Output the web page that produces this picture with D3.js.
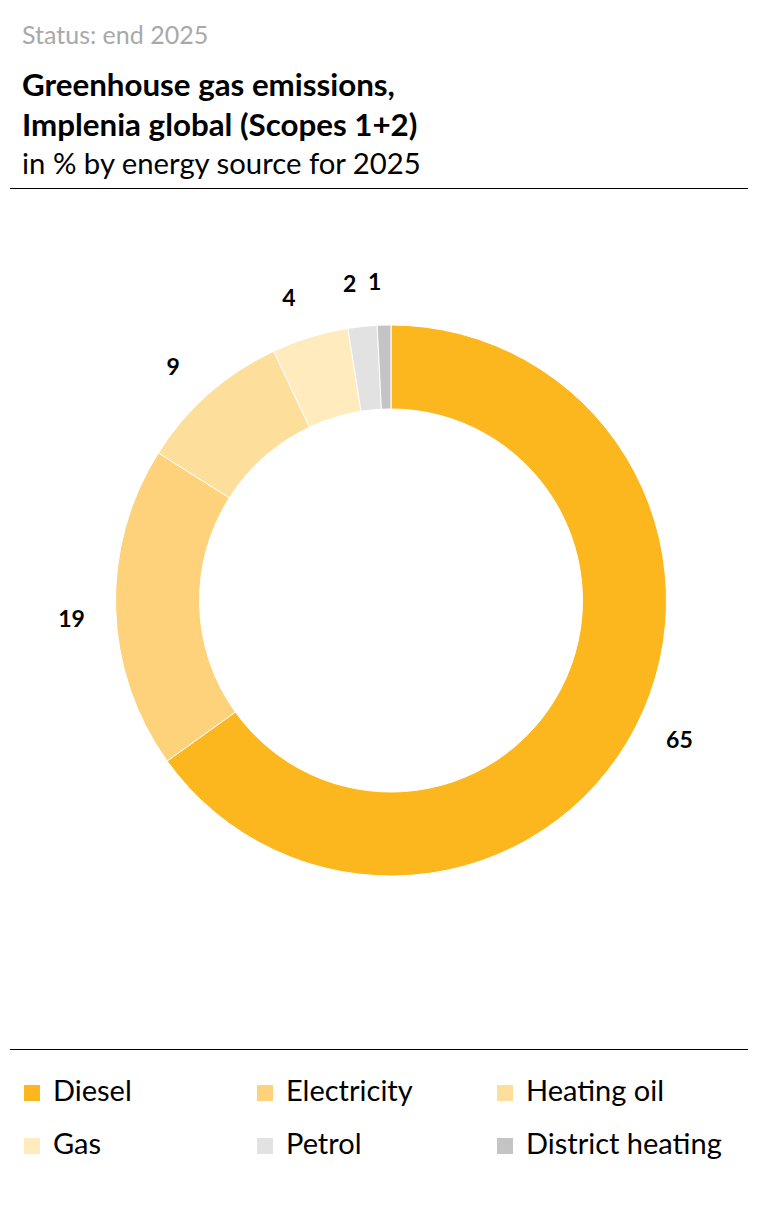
<!DOCTYPE html>
<html><head><meta charset="utf-8">
<script src="https://cdn.jsdelivr.net/npm/d3@7"></script>
<style>
html,body{margin:0;padding:0;background:#fff;}
svg{display:block;font-family:Lato,"Noto Sans",sans-serif;}
</style></head>
<body>
<svg id="chart" width="762" height="1232"></svg>
<script>
const categories = ["Diesel","Electricity","Heating oil","Gas","Petrol","District heating"];
const values = [65.1, 18.9, 9.0, 4.5, 1.7, 0.8];
const labels = ["65","19","9","4","2","1"];
const colors = ["#FDB71E","#FED27A","#FEDE9B","#FFEBBD","#E2E2E2","#C4C4C4"];

const svg = d3.select("#chart");

svg.append("text").attr("x",22).attr("y",44).attr("fill","#a9a9a9")
  .attr("font-size",25).text("Status: end 2025");
svg.append("text").attr("x",22).attr("y",96).attr("fill","#000")
  .attr("font-size",31.3).attr("font-weight","bold").text("Greenhouse gas emissions,");
svg.append("text").attr("x",22).attr("y",136).attr("fill","#000")
  .attr("font-size",31.3).attr("font-weight","bold").text("Implenia global (Scopes 1+2)");
svg.append("text").attr("x",22).attr("y",174).attr("fill","#000")
  .attr("font-size",29.3).text("in % by energy source for 2025");
svg.append("line").attr("x1",10).attr("x2",748).attr("y1",188.5).attr("y2",188.5)
  .attr("stroke","#000").attr("stroke-width",1);
svg.append("line").attr("x1",10).attr("x2",748).attr("y1",1049.5).attr("y2",1049.5)
  .attr("stroke","#000").attr("stroke-width",1);

const cx = 391, cy = 600.5, rOuter = 275.5, rInner = 191.5, rLabel = 320;
const labelShift = -1.5 * Math.PI / 180;
const pie = d3.pie().sort(null).value(d => d)(values);
const arc = d3.arc().innerRadius(rInner).outerRadius(rOuter);
const g = svg.append("g").attr("transform",`translate(${cx},${cy})`);
g.selectAll("path").data(pie).join("path")
  .attr("d",arc).attr("fill",(d,i)=>colors[i])
  .attr("stroke","#fff").attr("stroke-width",1);
g.selectAll("text").data(pie).join("text")
  .attr("transform",d=>{
    const a = (d.startAngle + d.endAngle)/2 + labelShift;
    return `translate(${rLabel*Math.sin(a)},${-rLabel*Math.cos(a)})`;
  })
  .attr("text-anchor","middle").attr("dominant-baseline","central")
  .attr("font-size",23).attr("font-weight","bold").attr("fill","#000")
  .text((d,i)=>labels[i]);

const legendX = [24, 257, 497];
const legendY = [1101, 1154];
const lg = svg.append("g").selectAll("g").data(categories).join("g")
  .attr("transform",(d,i)=>`translate(${legendX[i%3]},${legendY[Math.floor(i/3)]})`);
lg.append("rect").attr("x",0).attr("y",-16).attr("width",16).attr("height",16)
  .attr("fill",(d,i)=>colors[i]);
lg.append("text").attr("x",29).attr("y",0)
  .attr("font-size",29).attr("fill","#000").text(d=>d);
</script>
</body></html>
